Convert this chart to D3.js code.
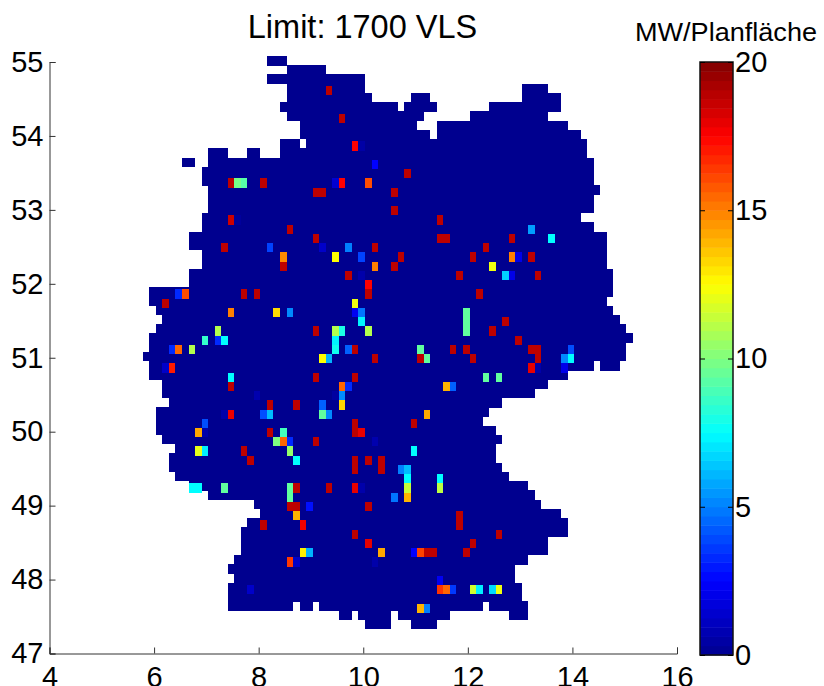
<!DOCTYPE html>
<html>
<head>
<meta charset="utf-8">
<script src="https://cdn.jsdelivr.net/npm/d3@7"></script>
<style>
  body { margin: 0; background: #fff; }
  svg { display: block; }
  text { font-family: "Liberation Sans", Arial, sans-serif; fill: #000; }
  .axis path, .axis line { stroke: #333; stroke-width: 1; }
  .axis text { font-size: 29px; }
  .cbar-axis path { display: none; }
  .cbar-axis line { stroke: #000; }
</style>
</head>
<body>
<div id="chart"></div>
<script>
const titleText = "Limit: 1700 VLS";
const unitText = "MW/Planfläche";
const lonTicks = [4, 6, 8, 10, 12, 14, 16];
const latTicks = [47, 48, 49, 50, 51, 52, 53, 54, 55];
const cbarTicks = [0, 5, 10, 15, 20];

// jet colormap stops
const jetStops = [0, 2.5, 7.5, 12.5, 17.5, 20];
const jetColors = ["#00008f", "#0000ff", "#00ffff", "#ffff00", "#ff0000", "#800000"];

// Land outline: one row per 1/8 degree of latitude, from the top, spans of
// [first, end) longitude in eighths of a degree. All of these cells are ~0 MW.
const firstMaskLat8 = 440;
const maskRows = [
  [[66,69]], [[69,75]], [[66,81]], [[69,81],[105,109]],
  [[69,82],[88,91],[105,111]], [[68,86],[87,92],[100,111]], [[69,90],[97,109]], [[71,89],[92,112]],
  [[71,91],[92,114]], [[68,71],[72,115]], [[57,60],[63,65],[68,115]], [[53,55],[57,116]],
  [[56,116]], [[56,116]], [[57,117]], [[57,116]],
  [[57,116]], [[56,114]], [[56,116]], [[54,118]],
  [[54,118]], [[56,118]], [[56,118]], [[54,119]],
  [[54,119]], [[48,119]], [[48,118]], [[49,119]],
  [[50,120]], [[49,121]], [[48,122]], [[48,121]],
  [[47,121]], [[48,116],[117,120]], [[48,112]], [[50,109]],
  [[50,107]], [[51,102]], [[49,100]], [[49,99]],
  [[49,101]], [[50,102]], [[52,101]], [[51,101]],
  [[51,102]], [[52,103]], [[54,106]], [[57,107]],
  [[64,108]], [[65,111]], [[63,112]], [[62,112]],
  [[62,109]], [[62,109]], [[61,106]], [[60,104]],
  [[61,104]], [[60,105]], [[60,105]], [[60,70],[71,73],[74,99],[100,106]],
  [[77,79],[80,85],[86,94],[103,106]], [[81,85],[88,92]]
];

// Cells with power: [lon in 1/8 deg, lat in 1/8 deg, MW]
const hotCells = [
  [75,437,18.8],
  [77,434,18.8],
  [79,431,17.5],[80,431,0.5],
  [82,429,2.5],
  [87,428,18.8],
  [60,427,18.8],[61,427,9.8],[62,427,9.2],[65,427,18.8],[76,427,1.5],[77,427,17.5],[81,427,16],
  [73,426,18.8],[74,426,18.8],[85,426,18.8],
  [85,424,18.8],
  [60,423,18.5],[61,423,0.3],[92,423,18.8],
  [69,422,18.8],[106,422,5.6],
  [73,421,18.8],[92,421,18.8],[93,421,18.8],[103,421,18.8],[109,421,7.5],
  [59,420,18.8],[66,420,3.8],[74,420,1.3],[78,420,5],[82,420,18.8],[99,420,18.8],
  [68,419,14.8],[76,419,12.5],[80,419,3.8],[86,419,18.8],[97,419,18.8],[103,419,15],[104,419,2],[106,419,18.8],
  [68,418,18.8],[82,418,15],[85,418,18.8],[100,418,12.2],
  [78,417,18.8],[80,417,0.6],[95,417,18.8],[102,417,6.6],[103,417,2],[107,417,18.8],
  [81,416,17.5],
  [52,415,3.3],[53,415,16],[62,415,18.8],[64,415,18.8],[81,415,18.8],[98,415,18.8],
  [50,414,18.8],[79,414,12.2],
  [60,413,15],[67,413,13.2],[69,413,5.2],[79,413,2.2],[80,413,4.8],[96,413,9.4],
  [80,412,7.3],[96,412,9.4],[102,412,18.8],
  [58,411,11],[73,411,18.8],[76,411,11],[77,411,8],[81,411,11],[96,411,9.4],[100,411,18.8],
  [56,410,8.5],[58,410,3.3],[59,410,7.5],[76,410,7.3],[104,410,18.8],
  [51,409,3.3],[52,409,15.5],[54,409,11],[76,409,7.8],[78,409,4.4],[79,409,18.8],[89,409,9.4],[94,409,18.8],[96,409,18.8],[106,409,18.8],[107,409,18.8],[112,409,4],
  [74,408,12.5],[75,408,6],[82,408,18.8],[89,408,18.8],[90,408,9.4],[97,408,18.8],[107,408,18.8],[111,408,5.2],[112,408,7.5],
  [50,407,1.3],[51,407,17],[106,407,18],[107,407,0.6],[111,407,2],
  [60,406,7.5],[73,406,18.8],[79,406,18.8],[99,406,9.4],[101,406,9.4],
  [60,405,18.8],[77,405,15.5],[78,405,3.3],[93,405,14],[94,405,4.4],
  [64,404,0.7],[76,404,0.4],[77,404,5.2],
  [66,403,18.8],[70,403,18.8],[74,403,4.4],[77,403,13.3],
  [59,402,0.6],[60,402,17.9],[65,402,4],[66,402,6.2],[74,402,9.4],[75,402,5.2],[90,402,14.2],
  [56,401,4],[79,401,18.8],[88,401,18.8],
  [55,400,14.2],[56,400,0.6],[66,400,18.8],[68,400,8.8],[79,400,18.8],[80,400,17.9],
  [67,399,10],[68,399,15.5],[69,399,3.3],[73,399,18.8],[82,399,0.7],
  [55,398,12],[56,398,7.2],[62,398,18.8],[69,398,10.4],[88,398,7.5],
  [63,397,18.8],[70,397,7.5],[79,397,18.8],[81,397,18.8],[83,397,18.8],
  [79,396,18.8],[83,396,18.8],[86,396,5],[87,396,6.2],
  [87,395,7.5],[92,395,7.5],
  [54,394,7.5],[55,394,7.5],[59,394,9.4],[69,394,9.4],[70,394,18.8],[75,394,18.8],[79,394,18],[80,394,0.6],[87,394,11.4],[92,394,11.2],
  [69,393,9.4],[85,393,4.8],[87,393,14],
  [69,392,18.8],[70,392,18.8],[72,392,2.8],[81,392,18.8],
  [70,391,14],[95,391,18.8],
  [65,390,18.8],[71,390,17.8],[95,390,18.8],
  [79,389,18.8],[101,389,18.8],
  [81,388,18],[97,388,18.8],
  [71,387,12.8],[72,387,6],[83,387,14.2],[88,387,2.5],[89,387,16.2],[90,387,18.8],[91,387,18.8],[96,387,18.8],
  [69,386,16.4],[70,386,1.3],[82,386,0.6],
  [92,384,2.2],
  [63,383,1.3],[92,383,16.5],[93,383,15.5],[94,383,3.6],[97,383,11.6],[98,383,7.2],[100,383,6.8],[101,383,12.2],
  [89,381,14],[90,381,5]
];

const width = 824;
const height = 686;
const plot = { left: 49.5, right: 677, top: 62, bottom: 653.5 };
const cbar = { left: 700, right: 733, top: 62, bottom: 655 };
const cellDeg = 1 / 8;

const svg = d3.select("#chart")
  .append("svg")
  .attr("width", width)
  .attr("height", height);

const x = d3.scaleLinear().domain([4, 16]).range([plot.left, plot.right]);
const y = d3.scaleLinear().domain([47, 55]).range([plot.bottom, plot.top]);
const color = d3.scaleLinear().domain(jetStops).range(jetColors).clamp(true);

const cellW = x(4 + cellDeg) - x(4);
const cellH = y(47) - y(47 + cellDeg);

// The marks sit a little off the nominal grid in the original
const xOff = -4.8;
const hotYOff = -3.7;
const maskYOff = -6;

// Land
const maskSpans = maskRows.flatMap((spans, i) =>
  spans.map((s) => ({ lat8: firstMaskLat8 - i, from: s[0], to: s[1] }))
);
svg.append("g")
  .selectAll("rect")
  .data(maskSpans)
  .enter()
  .append("rect")
  .attr("x", (d) => x(d.from / 8) + xOff)
  .attr("y", (d) => y(d.lat8 / 8) + maskYOff)
  .attr("width", (d) => (d.to - d.from) * cellW)
  .attr("height", cellH + 0.3)
  .attr("fill", color(0))
  .attr("shape-rendering", "crispEdges");

// Cells with a value
svg.append("g")
  .selectAll("rect")
  .data(hotCells)
  .enter()
  .append("rect")
  .attr("x", (d) => x(d[0] / 8) + xOff)
  .attr("y", (d) => y(d[1] / 8) + hotYOff)
  .attr("width", cellW)
  .attr("height", cellH)
  .attr("fill", (d) => color(d[2]))
  .attr("shape-rendering", "crispEdges");

// Axes, ticks pointing inward, no box
svg.append("g")
  .attr("class", "axis")
  .attr("transform", `translate(0,${plot.bottom})`)
  .call(d3.axisBottom(x).tickValues(lonTicks).tickFormat(d3.format("d")).tickSize(-6).tickPadding(12.5));

svg.append("g")
  .attr("class", "axis")
  .attr("transform", `translate(${plot.left},0)`)
  .call(d3.axisLeft(y).tickValues(latTicks).tickFormat(d3.format("d")).tickSize(-6).tickPadding(6));

// Colorbar
const cbarY = d3.scaleLinear().domain([0, 20]).range([cbar.bottom, cbar.top]);
const bands = d3.range(64);
const bandH = (cbar.bottom - cbar.top) / bands.length;
svg.append("g")
  .selectAll("rect")
  .data(bands)
  .enter()
  .append("rect")
  .attr("x", cbar.left)
  .attr("y", (d) => cbarY((d + 1) * 20 / 64))
  .attr("width", cbar.right - cbar.left)
  .attr("height", bandH + 0.5)
  .attr("fill", (d) => color((d + 0.5) * 20 / 64));

svg.append("rect")
  .attr("x", cbar.left)
  .attr("y", cbar.top)
  .attr("width", cbar.right - cbar.left)
  .attr("height", cbar.bottom - cbar.top)
  .attr("fill", "none")
  .attr("stroke", "#111")
  .attr("stroke-width", 1.5);

svg.append("g")
  .attr("class", "axis cbar-axis")
  .attr("transform", `translate(${cbar.right},0)`)
  .call(d3.axisRight(cbarY).tickValues(cbarTicks).tickFormat(d3.format("d")).tickSize(-5).tickPadding(2));

svg.append("g")
  .attr("class", "axis cbar-axis")
  .attr("transform", `translate(${cbar.left},0)`)
  .call(d3.axisLeft(cbarY).tickValues(cbarTicks).tickFormat("").tickSize(-5));

// Labels
svg.append("text")
  .attr("x", 362.5)
  .attr("y", 38)
  .attr("text-anchor", "middle")
  .style("font-size", "32.5px")
  .text(titleText);

svg.append("text")
  .attr("x", 726)
  .attr("y", 41)
  .attr("text-anchor", "middle")
  .attr("textLength", 182)
  .attr("lengthAdjust", "spacingAndGlyphs")
  .style("font-size", "25px")
  .text(unitText);
</script>
</body>
</html>
